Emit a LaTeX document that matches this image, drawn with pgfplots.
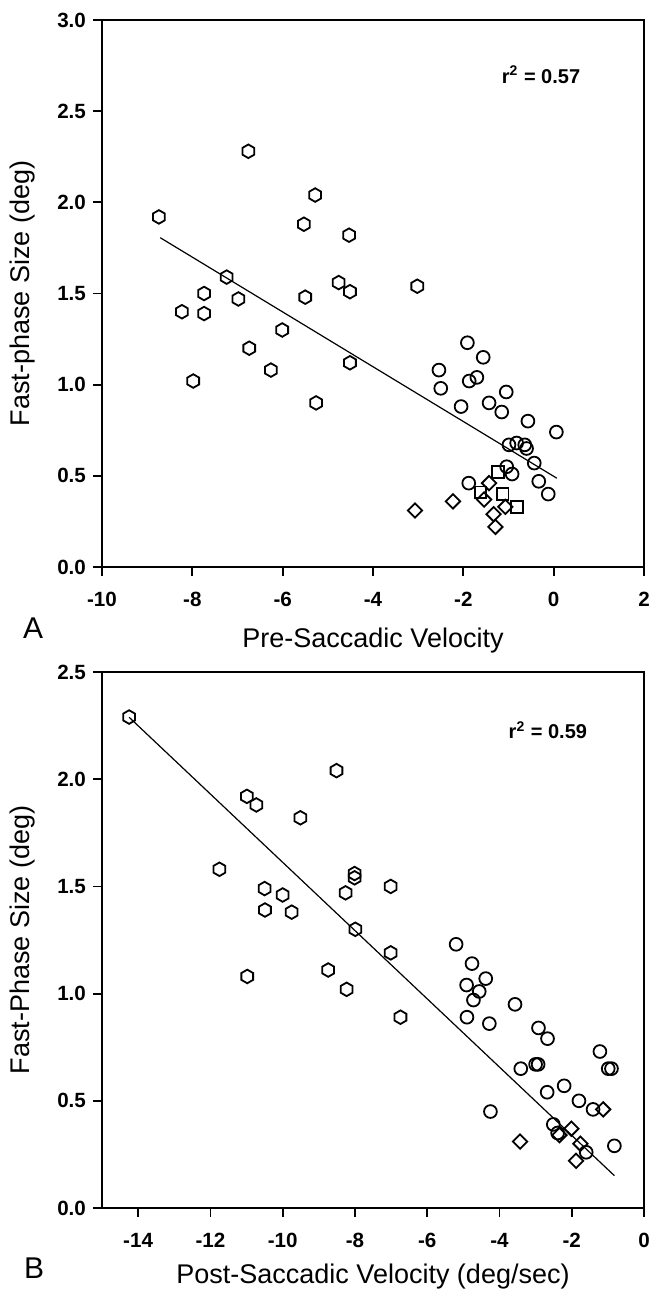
\documentclass[border=0pt]{standalone}
\usepackage{pgfplots}
\pgfplotsset{compat=1.18}
\usepackage{fontspec}
\setmainfont{Liberation Sans}
\pgfdeclareplotmark{hexagon}{%
  \pgfpathmoveto{\pgfpointpolar{90}{\pgfplotmarksize}}%
  \pgfpathlineto{\pgfpointpolar{150}{\pgfplotmarksize}}%
  \pgfpathlineto{\pgfpointpolar{210}{\pgfplotmarksize}}%
  \pgfpathlineto{\pgfpointpolar{270}{\pgfplotmarksize}}%
  \pgfpathlineto{\pgfpointpolar{330}{\pgfplotmarksize}}%
  \pgfpathlineto{\pgfpointpolar{30}{\pgfplotmarksize}}%
  \pgfpathclose\pgfusepathqstroke}
\pgfdeclareplotmark{rdiamond}{%
  \pgfpathmoveto{\pgfqpoint{0pt}{\pgfplotmarksize}}%
  \pgfpathlineto{\pgfqpoint{\pgfplotmarksize}{0pt}}%
  \pgfpathlineto{\pgfqpoint{0pt}{-\pgfplotmarksize}}%
  \pgfpathlineto{\pgfqpoint{-\pgfplotmarksize}{0pt}}%
  \pgfpathclose\pgfusepathqstroke}
\pgfplotsset{
  myax/.style={
    scale only axis,
    axis line style={line width=1pt},
    tick style={line width=0.9pt, black},
    tick align=outside,
    major tick length=4.5pt,
    tick pos=left,
    /pgf/number format/assume math mode=true,
    ticklabel style={font=\bfseries\fontsize{10.3}{12}\selectfont},
    xticklabel style={yshift=-4.5pt},
    yticklabel style={/pgf/number format/.cd, fixed, fixed zerofill, precision=1},
    label style={font=\fontsize{13.5}{16}\selectfont},
    clip=false,
  },
  hex/.style={only marks, mark=hexagon, mark size=3.4pt, mark options={line width=0.9pt, black}},
  circ/.style={only marks, mark=o, mark size=3.2pt, mark options={line width=0.9pt, black}},
  sq/.style={only marks, mark=square, mark size=2.9pt, mark options={line width=0.9pt, black}},
  dia/.style={only marks, mark=rdiamond, mark size=3.6pt, mark options={line width=0.9pt, black}},
}
\begin{document}
\begin{tikzpicture}
\path[use as bounding box] (0,0) rectangle (325.5pt,-648pt);
% Panel A
\begin{axis}[myax,
  at={(51pt,-283.5pt)}, anchor=south west,
  width=271pt, height=273.5pt,
  xmin=-10, xmax=2, ymin=0, ymax=3,
  xtick={-10,-8,...,2}, ytick={0,0.5,...,3},
  xlabel={Pre-Saccadic Velocity},
  ylabel={Fast-phase Size (deg)},
  xlabel style={at={(axis description cs:0.5,-0.134)}, anchor=center},
  ylabel style={at={(axis description cs:-0.146,0.5)}, anchor=center},
]
\addplot[black, line width=0.6pt] coordinates {(-8.71,1.806) (0.07,0.487)};
\addplot[hex] coordinates {
(-6.76,2.28) (-5.28,2.04) (-8.74,1.92) (-5.53,1.88) (-4.53,1.82)
(-7.24,1.59) (-4.76,1.56) (-4.51,1.51) (-3.02,1.54) (-7.74,1.50)
(-6.98,1.47) (-5.50,1.48) (-8.23,1.40) (-7.74,1.39) (-6.01,1.30)
(-6.74,1.20) (-6.26,1.08) (-4.51,1.12) (-7.98,1.02) (-5.26,0.90)};
\addplot[circ] coordinates {
(-1.91,1.23) (-1.56,1.15) (-2.54,1.08) (-1.70,1.04) (-1.87,1.02)
(-2.50,0.98) (-1.05,0.96) (-1.43,0.90) (-2.05,0.88) (-1.15,0.85)
(-0.57,0.80) (0.06,0.74) (-0.99,0.67) (-0.82,0.68) (-0.64,0.67)
(-0.60,0.65) (-0.43,0.57) (-1.04,0.55) (-0.92,0.51) (-0.33,0.47)
(-1.88,0.46) (-0.12,0.40)};
\addplot[sq] coordinates {(-1.23,0.52) (-1.13,0.40) (-0.81,0.33) (-1.62,0.41)};
\addplot[dia] coordinates {
(-1.43,0.46) (-1.54,0.37) (-2.23,0.36) (-3.07,0.31) (-1.07,0.33)
(-1.33,0.29) (-1.29,0.22)};
\node[font=\bfseries\fontsize{10}{12}\selectfont] at (axis cs:-0.28,2.70) {r\textsuperscript{2} = 0.57};
\node[font=\fontsize{15}{17}\selectfont] at (axis description cs:-0.127,-0.1115) {A};
\end{axis}
% Panel B
\begin{axis}[myax,
  at={(51pt,-604pt)}, anchor=south west,
  width=271pt, height=268pt,
  xmin=-15, xmax=0, ymin=0, ymax=2.5,
  xtick={-14,-12,...,0}, ytick={0,0.5,...,2.5},
  xlabel={Post-Saccadic Velocity (deg/sec)},
  ylabel={Fast-Phase Size (deg)},
  xlabel style={at={(axis description cs:0.5,-0.128)}, anchor=center},
  ylabel style={at={(axis description cs:-0.146,0.5)}, anchor=center},
]
\addplot[black, line width=0.6pt] coordinates {(-14.25,2.289) (-0.82,0.151)};
\addplot[hex] coordinates {
(-14.25,2.29) (-8.51,2.04) (-10.99,1.92) (-10.73,1.88) (-9.51,1.82)
(-11.75,1.58) (-8.01,1.56) (-8.01,1.54) (-7.01,1.50) (-8.26,1.47)
(-10.50,1.49) (-10.00,1.46) (-10.49,1.39) (-9.75,1.38) (-7.99,1.30)
(-7.01,1.19) (-10.98,1.08) (-8.74,1.11) (-8.23,1.02) (-6.74,0.89)};
\addplot[circ] coordinates {
(-5.20,1.23) (-4.76,1.14) (-4.38,1.07) (-4.91,1.04) (-4.56,1.01)
(-4.72,0.97) (-3.57,0.95) (-4.90,0.89) (-4.28,0.86) (-2.92,0.84)
(-2.67,0.79) (-1.22,0.73) (-3.00,0.67) (-2.93,0.67) (-3.41,0.65)
(-0.99,0.65) (-0.90,0.65) (-2.21,0.57) (-2.68,0.54) (-1.80,0.50)
(-1.41,0.46) (-4.25,0.45) (-2.51,0.39) (-2.39,0.35) (-0.82,0.29)
(-1.60,0.26)};
\addplot[dia] coordinates {
(-1.13,0.46) (-2.01,0.37) (-2.34,0.34) (-3.43,0.31) (-1.76,0.30)
(-1.88,0.22)};
\node[font=\bfseries\fontsize{10}{12}\selectfont] at (axis cs:-2.66,2.23) {r\textsuperscript{2} = 0.59};
\node[font=\fontsize{15}{17}\selectfont] at (axis description cs:-0.125,-0.112) {B};
\end{axis}
\end{tikzpicture}
\end{document}
